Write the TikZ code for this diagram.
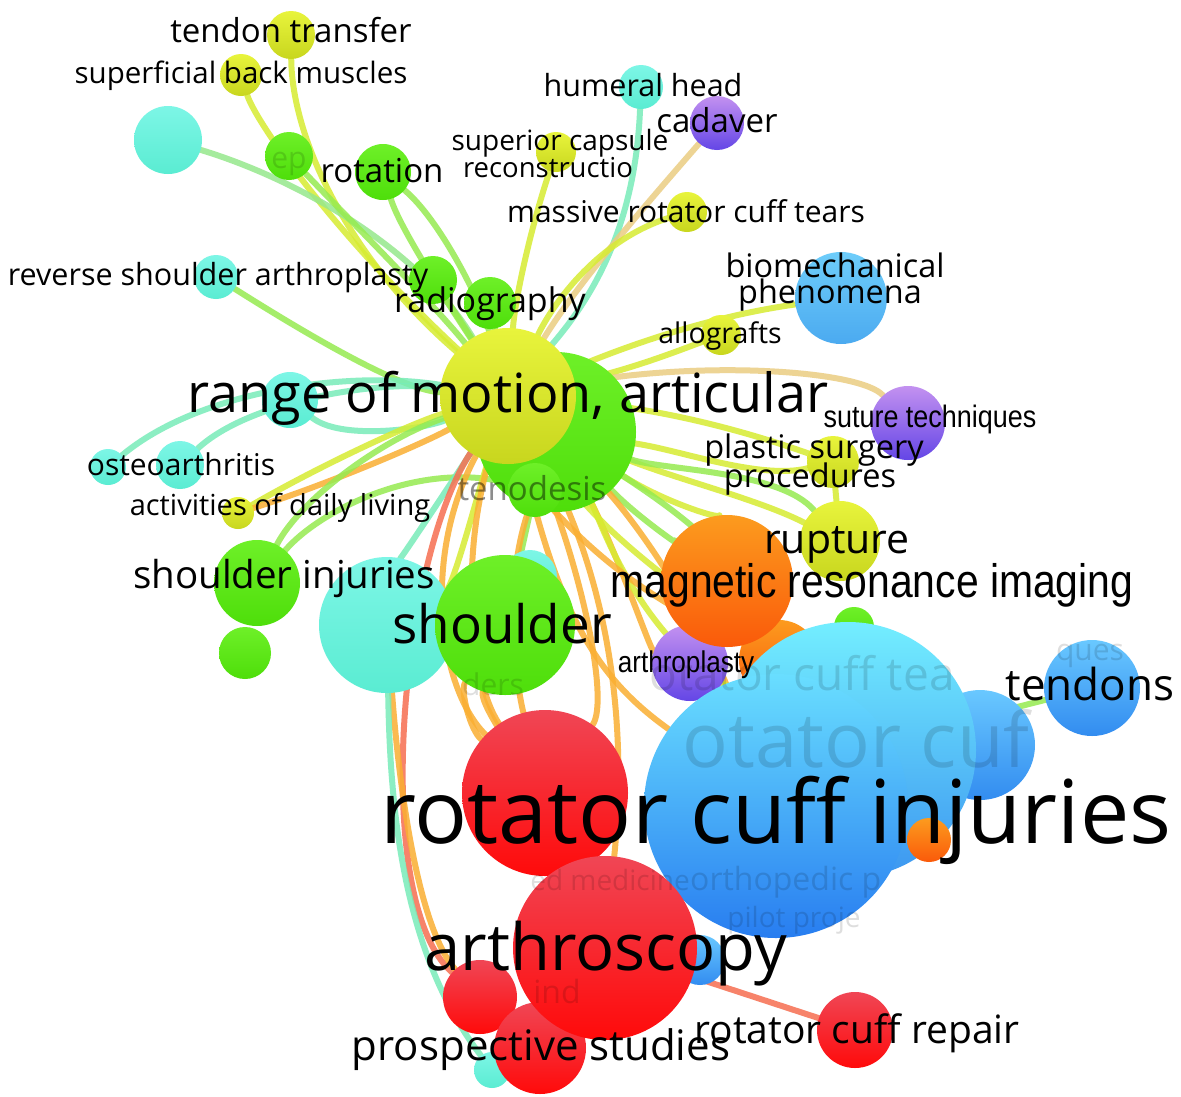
\documentclass[tikz,border=0pt]{standalone}
\usepackage{fontspec}
\setmainfont{Open Sans}
\newfontfamily\narrowfont[FakeStretch=0.87]{Liberation Sans}
\newcommand{\fsz}[1]{\fontsize{#1}{#1}\selectfont}

% bubble colours (top / bottom of the gradient)
\definecolor{yelT}{RGB}{232,244,60}
\definecolor{yelB}{RGB}{200,214,30}
\definecolor{grnT}{RGB}{110,240,40}
\definecolor{grnB}{RGB}{78,222,10}
\definecolor{cyaT}{RGB}{125,246,230}
\definecolor{cyaB}{RGB}{90,236,210}
\definecolor{bluT}{RGB}{105,200,255}
\definecolor{bluB}{RGB}{50,140,240}
\definecolor{skyT}{RGB}{110,205,250}
\definecolor{skyB}{RGB}{75,170,240}
\definecolor{lbuT}{RGB}{115,238,255}
\definecolor{lbuB}{RGB}{60,150,240}
\definecolor{dbuT}{RGB}{105,222,255}
\definecolor{dbuB}{RGB}{40,125,240}
\definecolor{purT}{RGB}{195,145,240}
\definecolor{purB}{RGB}{100,70,230}
\definecolor{oraT}{RGB}{252,155,30}
\definecolor{oraB}{RGB}{250,90,10}
\definecolor{redT}{RGB}{240,70,85}
\definecolor{redB}{RGB}{255,10,10}
% link colours
\definecolor{eYel}{RGB}{215,236,50}
\definecolor{eGrn}{RGB}{150,235,80}
\definecolor{eLgr}{RGB}{150,232,140}
\definecolor{eCya}{RGB}{120,236,185}
\definecolor{eOra}{RGB}{250,175,50}
\definecolor{eRed}{RGB}{246,110,80}
\definecolor{eBei}{RGB}{235,205,130}

\pgfdeclarelayer{links}
\pgfsetlayers{links,main}

\begin{document}
\begin{tikzpicture}[x=1pt, y=-1pt,
    bub/.style={circle, inner sep=0pt, draw=none, top color=#1T, bottom color=#1B},
    lbl/.style={anchor=base, inner sep=0pt, text=black},
    faint/.style={anchor=base, inner sep=0pt, text=black, text opacity=0.13},
    link/.style={line width=6pt, line cap=round, draw=#1, draw opacity=0.85}]

    \useasboundingbox (0,0) rectangle (1181,1096);
    \begin{pgfonlayer}{links}
        \fill[white] (0,0) rectangle (1181,1096);
    \end{pgfonlayer}

    %bubbles of the upper left cluster
    \node[bub=yel, minimum size=48pt] (tt) at (291,35) {};
    \node[bub=yel, minimum size=42pt] (sbm) at (241,75) {};
    \node[bub=cya, minimum size=68pt] (cyb) at (168,140) {};
    \node[bub=grn, minimum size=48pt] (dep) at (289,156) {};
    \node[bub=grn, minimum size=56pt] (rot) at (383,172) {};
    \node[bub=cya, minimum size=44pt] (rsa) at (216,277) {};
    \node[bub=grn, minimum size=48pt] (gsm) at (433,280) {};
    \node[bub=grn, minimum size=52pt] (rad) at (490,303) {};

    %bubbles of the upper right cluster
    \node[bub=cya, minimum size=44pt] (hh) at (641,87) {};
    \node[bub=pur, minimum size=54pt] (cad) at (717,123) {};
    \node[bub=yel, minimum size=40pt] (scr) at (556,152) {};
    \node[bub=yel, minimum size=40pt] (mrct) at (687,212) {};
    \node[bub=sky, minimum size=92pt] (bio) at (841,298) {};
    \node[bub=yel, minimum size=40pt] (allo) at (721,335) {};
    \node[bub=pur, minimum size=74pt] (sut) at (908,423) {};
    \node[bub=yel, minimum size=52pt] (psp) at (833,462) {};

    %bubbles on the left
    \node[bub=cya, minimum size=56pt] (cyn) at (290,400) {};
    \node[bub=cya, minimum size=36pt] (osa) at (108,467) {};
    \node[bub=cya, minimum size=48pt] (osb) at (180,465) {};
    \node[bub=yel, minimum size=32pt] (adl) at (238,513) {};
    \node[bub=grn, minimum size=86pt] (shi) at (257,583) {};
    \node[bub=grn, minimum size=52pt] (gsm2) at (245,653) {};

    %the hub
    \node[bub=grn, minimum size=160pt] (grnb) at (556,432) {};
    \node[bub=grn, minimum size=54pt] (ten) at (535,490) {};
    \node[bub=yel, minimum size=136pt] (rom) at (508,396) {};

    \node[bub=cya, minimum size=136pt] (cyb2) at (387,625) {};
    \node[bub=cya, minimum size=54pt] (cys) at (530,577) {};
    \node[bub=grn, minimum size=140pt] (sh) at (505,625) {};

    \node[bub=yel, minimum size=80pt] (rup) at (840,541) {};
    \node[bub=ora, minimum size=80pt] (orb) at (779,660) {};
    \node[bub=grn, minimum size=40pt] (gsm3) at (854,627) {};
    \node[bub=pur, minimum size=76pt] (arp) at (690,663) {};
    \node[bub=ora, minimum size=132pt] (mri) at (727,581) {};

    %blue cluster
    \node[bub=blu, minimum size=110pt] (blr) at (980,745) {};
    \node[bub=blu, minimum size=96pt] (tnd) at (1092,688) {};
    \node[bub=lbu, minimum size=256pt] (rct) at (848,750) {};
    \node[bub=ora, minimum size=44pt] (ors) at (929,840) {};
    \node[bub=dbu, minimum size=264pt] (rci) at (776,806) {};

    %red cluster
    \node[bub=red, minimum size=166pt] (rcr) at (545,793) {};
    \node[bub=blu, minimum size=50pt] (bls) at (700,960) {};
    \node[bub=cya, minimum size=36pt] (cys2) at (492,1070) {};
    \node[bub=red, minimum size=74pt] (rl) at (480,997) {};
    \node[bub=red, minimum size=92pt] (rb) at (540,1048) {};
    \node[bub=red, minimum size=184pt] (arth) at (605,948) {};
    \node[bub=red, minimum size=76pt] (rcrep) at (855,1030) {};

    %links, under the bubbles
    \begin{pgfonlayer}{links}
        \draw[link=eYel] (tt) .. controls (292,140) and (350,260) .. (rom);
        \draw[link=eYel] (sbm) .. controls (255,120) and (330,230) .. (rom);
        \draw[link=eLgr] (cyb) .. controls (300,180) and (420,250) .. (rom);
        \draw[link=eGrn] (dep) .. controls (340,210) and (430,300) .. (rom);
        \draw[link=eGrn] (rot) .. controls (440,220) and (480,300) .. (rom);
        \draw[link=eGrn] (rot) .. controls (400,230) and (460,320) .. (rom);
        \draw[link=eGrn] (rsa) .. controls (300,330) and (400,390) .. (rom);
        \draw[link=eGrn] (gsm) -- (rom);
        \draw[link=eGrn] (rad) -- (rom);
        \draw[link=eCya] (hh) .. controls (635,230) and (590,300) .. (rom);
        \draw[link=eYel] (scr) .. controls (530,230) and (515,300) .. (rom);
        \draw[link=eBei] (cad) .. controls (650,200) and (580,280) .. (rom);
        \draw[link=eYel] (mrct) .. controls (600,240) and (555,300) .. (rom);
        \draw[link=eYel] (bio) .. controls (720,315) and (640,340) .. (rom);
        \draw[link=eYel] (allo) .. controls (680,350) and (630,370) .. (rom);
        \draw[link=eBei] (sut) .. controls (860,370) and (700,360) .. (rom);
        \draw[link=eYel] (psp) .. controls (770,440) and (680,410) .. (rom);
        \draw[link=eYel] (psp) .. controls (760,480) and (680,450) .. (grnb);
        \draw[link=eYel] (psp) -- (rup);
        \draw[link=eCya] (osa) .. controls (200,390) and (350,370) .. (rom);
        \draw[link=eCya] (osb) .. controls (250,400) and (380,380) .. (rom);
        \draw[link=eCya] (cyn) .. controls (340,440) and (420,430) .. (rom);
        \draw[link=eYel] (adl) .. controls (330,460) and (420,420) .. (rom);
        \draw[link=eOra] (adl) .. controls (340,480) and (430,440) .. (rom);
        \draw[link=eGrn] (shi) .. controls (300,500) and (380,440) .. (rom);
        \draw[link=eGrn] (shi) .. controls (320,510) and (420,460) .. (ten);
        % the fan below the hub
        \draw[link=eYel] (rom) .. controls (470,520) and (450,600) .. (sh);
        \draw[link=eGrn] (ten) -- (sh);
        \draw[link=eCya] (rom) .. controls (440,500) and (400,560) .. (cyb2);
        \draw[link=eOra] (rom) .. controls (460,560) and (470,680) .. (rcr);
        \draw[link=eOra] (ten) .. controls (500,600) and (520,700) .. (rcr);
        \draw[link=eOra] (rom) .. controls (420,560) and (440,690) .. (rcr);
        \draw[link=eOra] (rom) .. controls (580,560) and (610,700) .. (rcr);
        \draw[link=eOra] (rom) .. controls (600,560) and (630,700) .. (arth);
        \draw[link=eOra] (grnb) .. controls (620,560) and (650,650) .. (arp);
        \draw[link=eGrn] (grnb) .. controls (640,520) and (700,560) .. (mri);
        \draw[link=eYel] (grnb) .. controls (660,500) and (720,520) .. (mri);
        \draw[link=eOra] (grnb) .. controls (650,540) and (700,620) .. (rci);
        \draw[link=eYel] (grnb) .. controls (600,520) and (640,640) .. (rct);
        \draw[link=eYel] (grnb) .. controls (680,480) and (760,500) .. (rup);
        \draw[link=eOra] (ten) .. controls (600,560) and (650,600) .. (orb);
        \draw[link=eGrn] (grnb) .. controls (690,520) and (740,560) .. (rct);
        \draw[link=eGrn] (grnb) .. controls (660,470) and (780,470) .. (rup);
        \draw[link=eYel] (rom) .. controls (590,520) and (640,560) .. (orb);
        \draw[link=eOra] (rom) .. controls (560,620) and (600,680) .. (rci);
        \draw[link=eOra] (sh) .. controls (480,700) and (500,730) .. (rcr);
        \draw[link=eOra] (sh) .. controls (460,690) and (470,730) .. (rcr);
        % long arcs on the left
        \draw[link=eRed] (rom) .. controls (400,560) and (370,900) .. (rl);
        \draw[link=eOra] (cyb2) .. controls (400,800) and (420,930) .. (rl);
        \draw[link=eCya] (cyb2) .. controls (390,800) and (400,950) .. (cys2);
        % lower right
        \draw[link=eRed] (arth) -- (rcrep);
        \draw[link=eGrn] (rct) -- (tnd);
    \end{pgfonlayer}

    %faint labels of hidden items
    \node[faint, font=\fsz{30}] (l-ep) at (289,168) {ep};
    \node[faint, font=\fsz{30}] (l-ders) at (493,695) {ders};
    \node[faint, font=\fsz{46}] (l-rct) at (802,690) {otator cuff tea};
    \node[faint, font=\fsz{76}] (l-rcc) at (856,767) {otator cuf};
    \node[faint, font=\fsz{30}] (l-ques) at (1090,660) {ques};
    \node[faint, font=\fsz{28}, anchor=base east] (l-med) at (690,890) {ed medicine};
    \node[faint, font=\fsz{32}, anchor=base west] (l-orth) at (690,890) {orthopedic p};
    \node[faint, font=\fsz{28}] (l-pilot) at (794,927) {pilot proje};
    \node[faint, font=\fsz{32}] (l-ind) at (557,1003) {ind};

    %labels
    \node[lbl, font=\fsz{33}] (l-tt) at (291,42) {tendon transfer};
    \node[lbl, font=\fsz{29.5}] (l-sbm) at (241,83) {superficial back muscles};
    \node[lbl, font=\fsz{33}] (l-rot) at (382,182) {rotation};
    \node[lbl, font=\fsz{30.5}] (l-rsa) at (218,285) {reverse shoulder arthroplasty};
    \node[lbl, font=\fsz{34}] (l-rad) at (490,312) {radiography};
    \node[lbl, font=\fsz{30.5}] (l-hh) at (643,96) {humeral head};
    \node[lbl, font=\fsz{33}] (l-cad) at (717,132) {cadaver};
    \node[lbl, font=\fsz{28}] (l-scr1) at (560,150) {superior capsule};
    \node[lbl, font=\fsz{27.5}] (l-scr2) at (548,177) {reconstructio};
    \node[lbl, font=\fsz{30}] (l-mrct) at (686,222) {massive rotator cuff tears};
    \node[lbl, font=\fsz{32.4}] (l-bio1) at (835,277) {biomechanical};
    \node[lbl, font=\fsz{32.4}] (l-bio2) at (830,303) {phenomena};
    \node[lbl, font=\fsz{28.5}] (l-allo) at (720,343) {allografts};
    \node[lbl, font=\fsz{54}] (l-rom) at (508,412) {range of motion, articular};
    \node[lbl, font=\fsz{33}, text opacity=0.45] (l-ten) at (532,500) {tenodesis};
    \node[lbl, font=\narrowfont\fsz{31}] (l-sut) at (930,427) {suture techniques};
    \node[lbl, font=\fsz{32.5}] (l-psp1) at (814,458) {plastic surgery};
    \node[lbl, font=\fsz{32.5}] (l-psp2) at (810,487) {procedures};
    \node[lbl, font=\fsz{30}] (l-osa) at (181,475) {osteoarthritis};
    \node[lbl, font=\fsz{29}] (l-adl) at (280,515) {activities of daily living};
    \node[lbl, font=\fsz{38.5}] (l-shi) at (284,588) {shoulder injuries};
    \node[lbl, font=\fsz{53}] (l-sh) at (502,643) {shoulder};
    \node[lbl, font=\fsz{41}] (l-rup) at (837,553) {rupture};
    \node[lbl, font=\narrowfont\fsz{47}] (l-mri) at (872,597) {magnetic resonance imaging};
    \node[lbl, font=\narrowfont\fsz{30}] (l-arp) at (686,672) {arthroplasty};
    \node[lbl, font=\fsz{44}] (l-tnd) at (1090,700) {tendons};
    \node[lbl, font=\fsz{88}] (l-rci) at (776,843) {rotator cuff injuries};
    \node[lbl, font=\fsz{65}] (l-arth) at (606,970) {arthroscopy};
    \node[lbl, font=\fsz{42}] (l-ps) at (541,1060) {prospective studies};
    \node[lbl, font=\fsz{39}] (l-rcrep) at (857,1043) {rotator cuff repair};
\end{tikzpicture}
\end{document}
